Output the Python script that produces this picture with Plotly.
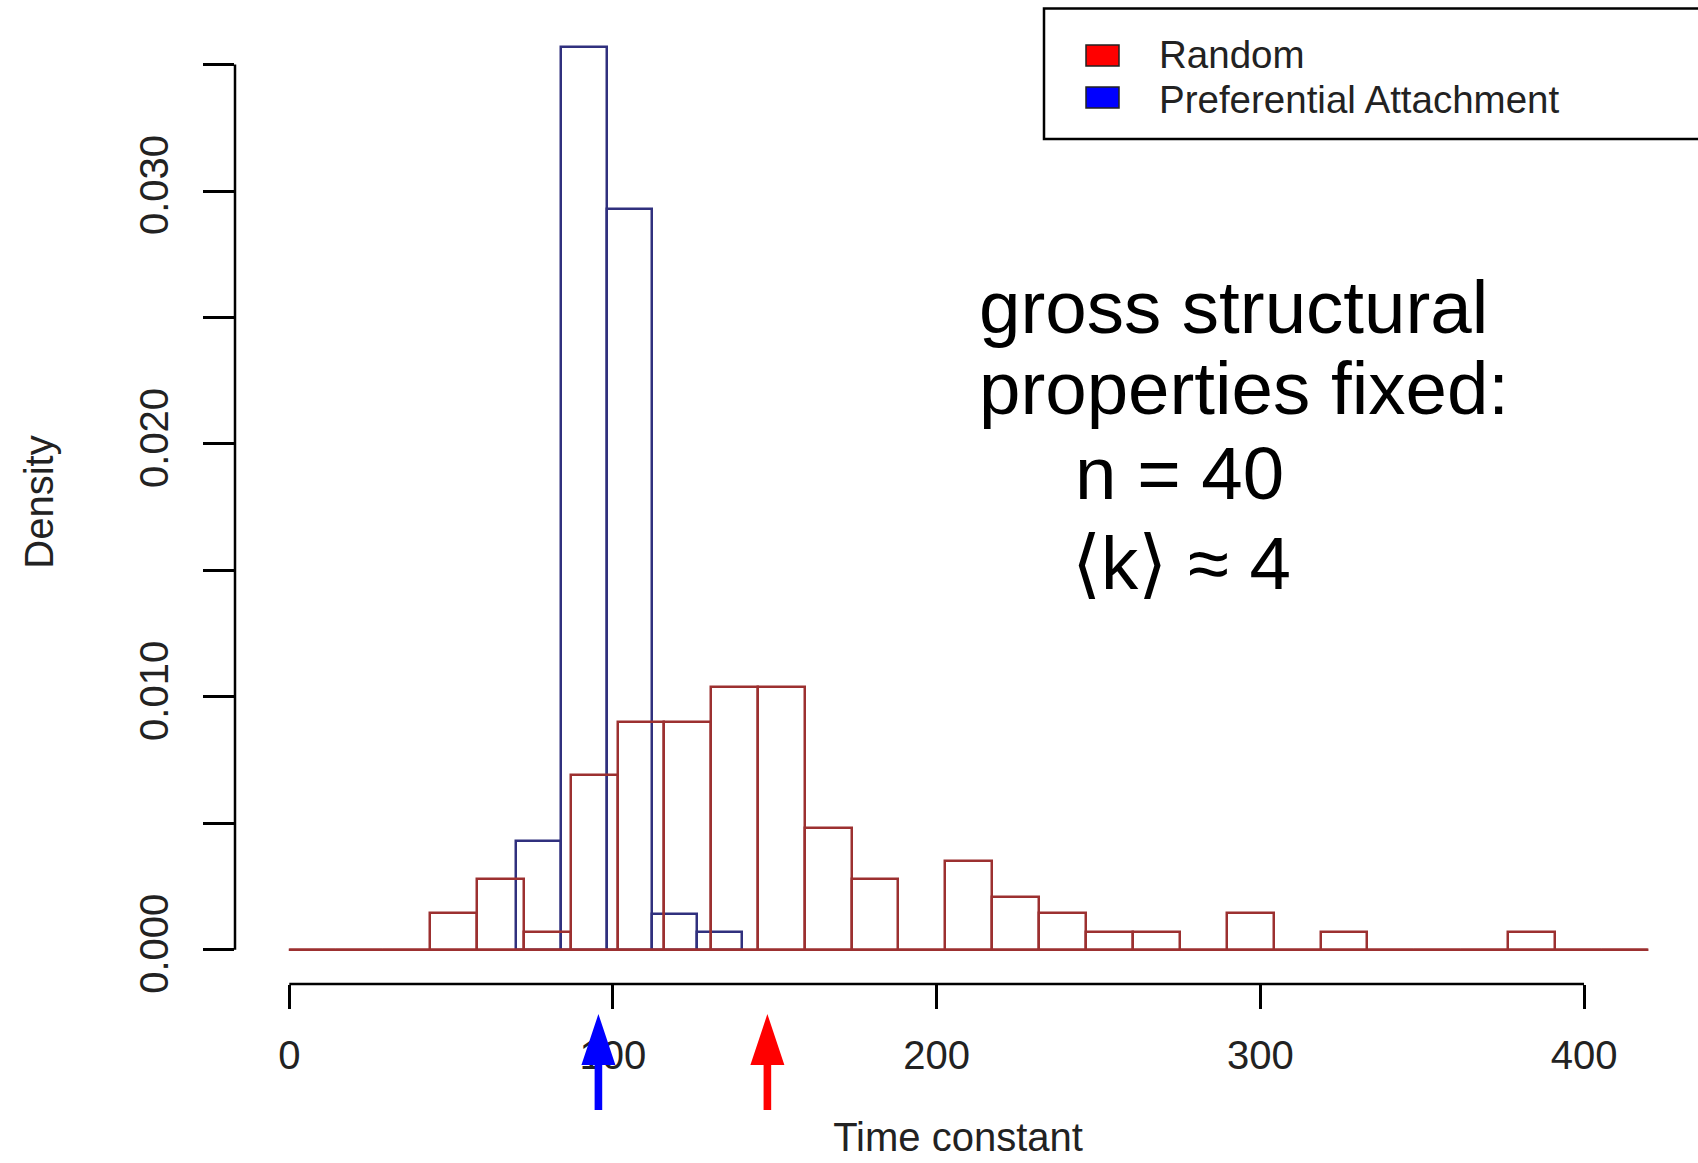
import plotly.graph_objects as go

# ---------------- data ----------------
# Random networks: histogram breaks and densities
red_breaks = [0, 14.5, 29.0, 43.4, 57.9, 72.4, 86.9, 101.4, 115.8, 130.3, 144.8,
              159.3, 173.8, 188.2, 202.7, 217.2, 231.7, 246.2, 260.6, 275.1, 289.6,
              304.1, 318.6, 333.0, 347.5, 362.0, 376.5, 391.0, 405.4, 419.9]
red_density = [0, 0, 0, 0.00145, 0.0028, 0.0007, 0.0069, 0.0090, 0.0090, 0.0104,
               0.0104, 0.0048, 0.0028, 0, 0.0035, 0.0021, 0.00145, 0.0007, 0.0007, 0,
               0.00145, 0, 0.0007, 0, 0, 0, 0.0007, 0, 0]

# Preferential attachment networks
blue_breaks = [70, 84, 98, 112, 126, 140]
blue_density = [0.0043, 0.0357, 0.0293, 0.0014, 0.0007]

# mean time constants marked by arrows
mean_values = [95.5, 147.7]
mean_colors = ["#0000ff", "#ff0000"]

series_names = ["Random", "Preferential Attachment"]
series_fill = ["#ff0000", "#0000ff"]
red_line = "#9c3030"
blue_line = "#30307e"

x_ticks = [0, 100, 200, 300, 400]
x_tick_labels = ["0", "100", "200", "300", "400"]
y_ticks = [0.0, 0.005, 0.010, 0.015, 0.020, 0.025, 0.030, 0.035]
y_tick_labels = ["0.000", "", "0.010", "", "0.020", "", "0.030", ""]

note_lines = ["gross structural", "properties fixed:", "n = 40", "\u27e8k\u27e9 \u2248 4"]

# ---------------- layout geometry ----------------
W, H = 1698, 1163
ML, MR, MT, MB = 235, 17, 20, 179
PW = W - ML - MR
PH = H - MT - MB
XR = [-16.776, 429.96]
YR = [-0.001356, 0.036763]
FONT = "Liberation Sans, Arial, Helvetica, sans-serif"


def xp(px):  # pixel -> paper x
    return (px - ML) / PW


def yp(py):  # pixel -> paper y
    return (H - MB - py) / PH


def xdata_to_paper(v):
    return (v - XR[0]) / (XR[1] - XR[0])


def ydata_to_paper(v):
    return (v - YR[0]) / (YR[1] - YR[0])


def hist_trace(breaks, dens, color):
    mids = [(a + b) / 2 for a, b in zip(breaks[:-1], breaks[1:])]
    widths = [b - a for a, b in zip(breaks[:-1], breaks[1:])]
    return go.Bar(x=mids, y=dens, width=widths,
                  marker=dict(color="rgba(0,0,0,0)", line=dict(color=color, width=2.5)),
                  showlegend=False, hoverinfo="x+y")


fig = go.Figure()
fig.add_trace(hist_trace(blue_breaks, blue_density, blue_line))
# baseline of the Random histogram (zero-count bins)
fig.add_trace(go.Scatter(x=[red_breaks[0], red_breaks[-1]], y=[0, 0], mode="lines",
                         line=dict(color=red_line, width=2.5), showlegend=False,
                         hoverinfo="skip"))
fig.add_trace(hist_trace(red_breaks, red_density, red_line))

shapes = []
# R-style detached axis lines
shapes.append(dict(type="line", xref="paper", yref="paper",
                   x0=xdata_to_paper(x_ticks[0]), x1=xdata_to_paper(x_ticks[-1]),
                   y0=0, y1=0, line=dict(color="black", width=2.5)))
shapes.append(dict(type="line", xref="paper", yref="paper", x0=0, x1=0,
                   y0=ydata_to_paper(y_ticks[0]), y1=ydata_to_paper(y_ticks[-1]),
                   line=dict(color="black", width=2.5)))

# arrows marking the means
arrow_path = "M0,-30 L17,-81 L3.8,-81 L3.8,-126 L-3.8,-126 L-3.8,-81 L-17,-81 Z"
for v, c in zip(mean_values, mean_colors):
    shapes.append(dict(type="path", xref="paper", yref="paper",
                       xsizemode="pixel", ysizemode="pixel",
                       xanchor=xdata_to_paper(v), yanchor=0,
                       path=arrow_path, fillcolor=c, line=dict(width=0)))

# legend box
shapes.append(dict(type="rect", xref="paper", yref="paper",
                   x0=xp(1044), x1=xp(1730), y0=yp(139), y1=yp(8.5),
                   fillcolor="white", line=dict(color="black", width=2.5), layer="below"))
legend_rows = [(45, 66, 55), (87, 108, 99)]
annotations = []
for name, fill, (t, b, c) in zip(series_names, series_fill, legend_rows):
    shapes.append(dict(type="rect", xref="paper", yref="paper",
                       x0=xp(1086), x1=xp(1119), y0=yp(b), y1=yp(t),
                       fillcolor=fill, line=dict(color="#222222", width=1.5)))
    annotations.append(dict(text=name, xref="paper", yref="paper", x=xp(1158), y=yp(c),
                            xanchor="left", yanchor="middle", showarrow=False, borderpad=0,
                            font=dict(family=FONT, size=38.5, color="#222222")))

# note text
note_pos = [(977, 307), (977, 388), (1073, 473), (1070, 563)]
for txt, (x, y) in zip(note_lines, note_pos):
    annotations.append(dict(text=txt, xref="paper", yref="paper", x=xp(x), y=yp(y),
                            xanchor="left", yanchor="middle", showarrow=False,
                            font=dict(family=FONT, size=74.5, color="black")))

fig.update_layout(
    width=W, height=H, autosize=False,
    margin=dict(l=ML, r=MR, t=MT, b=MB, pad=0, autoexpand=False),
    paper_bgcolor="white", plot_bgcolor="white",
    barmode="overlay", bargap=0, showlegend=False,
    font=dict(family=FONT, color="#222222"),
    shapes=shapes, annotations=annotations,
    xaxis=dict(range=XR, tickmode="array", tickvals=x_ticks, ticktext=x_tick_labels,
               ticks="outside", ticklen=24, tickwidth=2.5, tickcolor="black",
               showline=False, showgrid=False, zeroline=False, automargin=False,
               tickfont=dict(family=FONT, size=40, color="#222222"),
               ticklabelstandoff=12,
               title=dict(text="Time constant", font=dict(family=FONT, size=40, color="#222222"),
                          standoff=46)),
    yaxis=dict(range=YR, tickmode="array", tickvals=y_ticks, ticktext=y_tick_labels,
               ticks="outside", ticklen=31, tickwidth=2.5, tickcolor="black",
               tickangle=-90,
               showline=False, showgrid=False, zeroline=False, automargin=False,
               tickfont=dict(family=FONT, size=40, color="#222222"),
               ticklabelstandoff=19,
               title=dict(text="Density", font=dict(family=FONT, size=40, color="#222222"),
                          standoff=66)),
)

fig.write_html("out.html", config={"displayModeBar": False},
               post_script="document.body.style.margin='0';document.body.style.overflow='hidden';")
